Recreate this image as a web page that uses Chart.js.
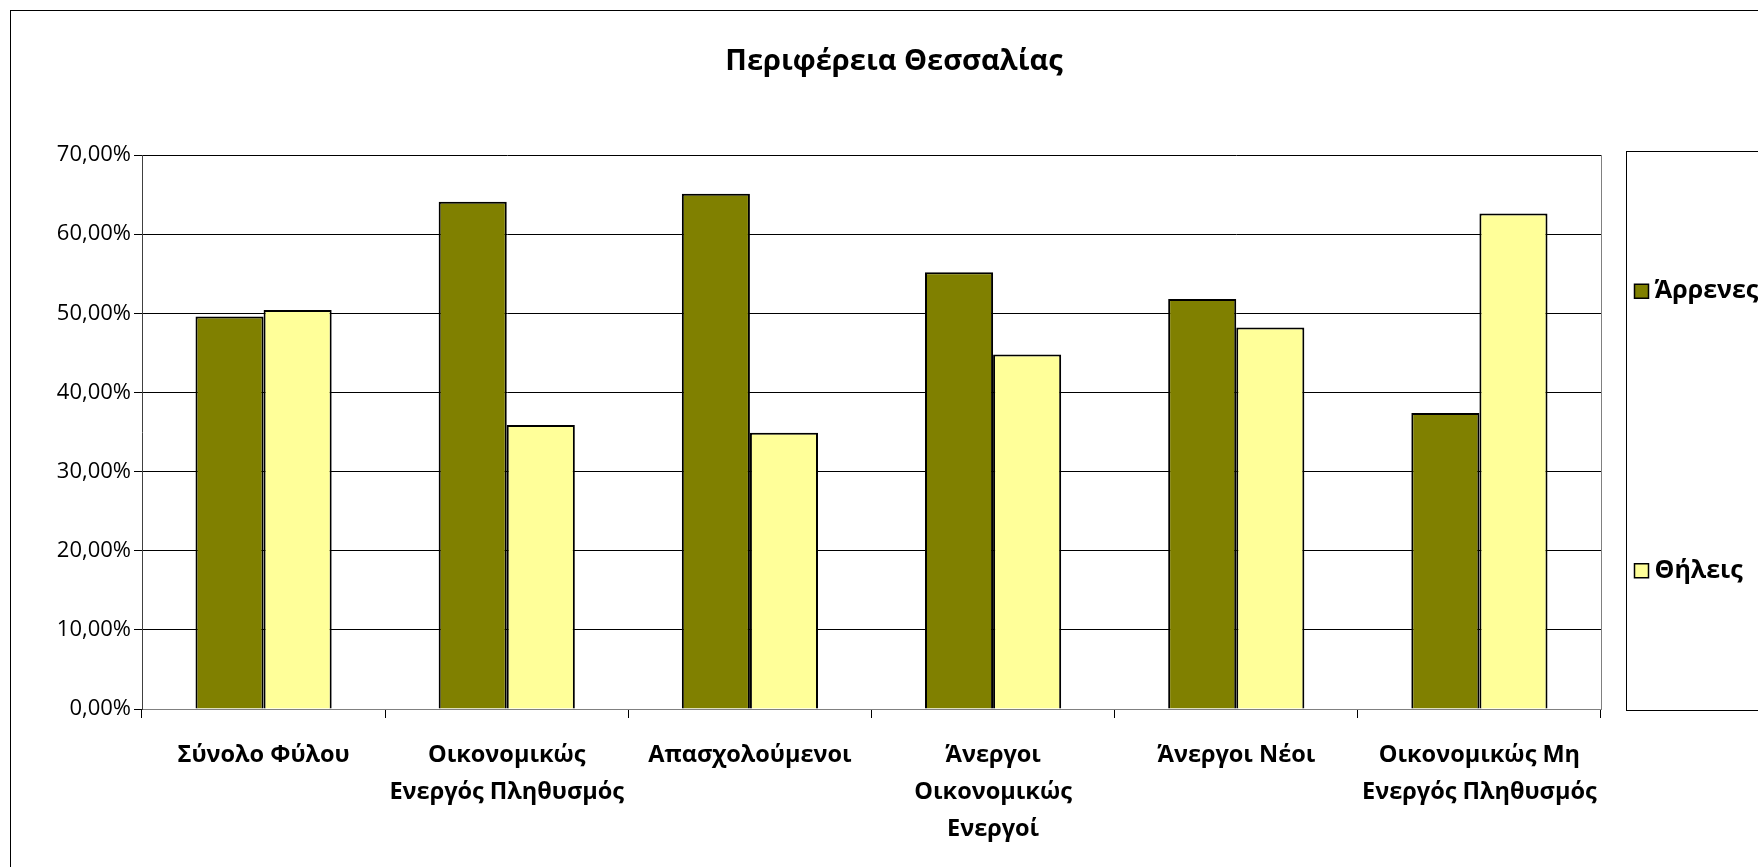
<!DOCTYPE html>
<html>
<head>
<meta charset="utf-8">
<script src="https://cdn.jsdelivr.net/npm/chart.js@4"></script>
<style>
  html, body { margin: 0; padding: 0; background: #fff; overflow: hidden; }
  #wrap { width: 1788px; height: 880px; }
</style>
</head>
<body>
<div id="wrap"><canvas id="chart" width="1788" height="880"></canvas></div>
<script>
const chartTitle = 'Περιφέρεια Θεσσαλίας';
const categories = [
  ['Σύνολο Φύλου'],
  ['Οικονομικώς', 'Ενεργός Πληθυσμός'],
  ['Απασχολούμενοι'],
  ['Άνεργοι', 'Οικονομικώς', 'Ενεργοί'],
  ['Άνεργοι Νέοι'],
  ['Οικονομικώς Μη', 'Ενεργός Πληθυσμός']
];
const seriesNames = ['Άρρενες', 'Θήλεις'];
const males = [49.6, 64.1, 65.1, 55.2, 51.8, 37.4];
const females = [50.4, 35.9, 34.9, 44.8, 48.2, 62.6];
const yMax = 70;
const yStep = 10;

const FONT = '"Open Sans", "Noto Sans", sans-serif';

// outer frame, title over the whole frame, plot right border and the boxed legend
const framePlugin = {
  id: 'frame',
  beforeDraw(chart) {
    const ctx = chart.ctx;
    ctx.save();
    ctx.fillStyle = '#fff';
    ctx.fillRect(0, 0, chart.width, chart.height);
    ctx.strokeStyle = '#000';
    ctx.lineWidth = 1;
    ctx.strokeRect(10.5, 10.5, chart.width - 21, chart.height - 21);
    ctx.restore();
  },
  afterDraw(chart) {
    const ctx = chart.ctx;
    const a = chart.chartArea;
    ctx.save();

    ctx.fillStyle = '#000';
    ctx.font = 'bold 29px ' + FONT;
    ctx.textAlign = 'center';
    ctx.textBaseline = 'middle';
    ctx.fillText(chartTitle, chart.width / 2, 62);

    ctx.strokeStyle = '#808080';
    ctx.lineWidth = 1;
    ctx.beginPath();
    ctx.moveTo(Math.round(a.right) + 0.5, a.top);
    ctx.lineTo(Math.round(a.right) + 0.5, a.bottom);
    ctx.stroke();

    // legend box
    const bx = Math.round(a.right) + 25.5;
    const by = Math.round(a.top) - 3.5;
    const bh = Math.round(a.bottom - a.top) + 5;
    const bw = chart.width - 14 - bx;
    ctx.strokeStyle = '#000';
    ctx.strokeRect(bx, by, bw, bh);

    const sets = chart.data.datasets;
    ctx.font = 'bold 25px ' + FONT;
    ctx.textBaseline = 'middle';
    ctx.textAlign = 'left';
    sets.forEach((ds, i) => {
      const cy = by + bh * (i + 0.5) / sets.length;
      ctx.fillStyle = ds.backgroundColor;
      ctx.fillRect(bx + 8, cy - 7, 14, 14);
      ctx.strokeStyle = '#000';
      ctx.lineWidth = 1.5;
      ctx.strokeRect(bx + 8, cy - 7, 14, 14);
      ctx.fillStyle = '#000';
      ctx.fillText(ds.label, bx + 28, cy);
    });
    ctx.restore();
  }
};

new Chart(document.getElementById('chart'), {
  type: 'bar',
  data: {
    labels: categories,
    datasets: [
      { label: seriesNames[0], data: males, backgroundColor: '#808000', borderColor: '#000', borderWidth: 2 },
      { label: seriesNames[1], data: females, backgroundColor: '#FFFF99', borderColor: '#000', borderWidth: 2 }
    ]
  },
  options: {
    responsive: false,
    animation: false,
    devicePixelRatio: 1,
    layout: { padding: { top: 155, left: 10, right: 187, bottom: 10 } },
    datasets: { bar: { categoryPercentage: 0.56, barPercentage: 1 } },
    plugins: {
      legend: { display: false },
      tooltip: { enabled: false },
      title: { display: false }
    },
    scales: {
      x: {
        grid: { display: true, drawOnChartArea: false, offset: true, tickLength: 9, color: '#000' },
        border: { display: true, color: '#808080' },
        ticks: {
          color: '#000',
          padding: 19,
          font: { family: FONT, size: 23.5, weight: 'bold', lineHeight: '37px' }
        },
        afterFit(scale) { scale.height = 161; }
      },
      y: {
        min: 0,
        max: yMax,
        grid: { color: '#000', tickLength: 8 },
        border: { display: true, color: '#404040' },
        ticks: {
          stepSize: yStep,
          color: '#000',
          padding: 3,
          font: { family: FONT, size: 22 },
          callback: v => v.toFixed(2).replace('.', ',') + '%'
        },
        afterFit(scale) { scale.width = 132; }
      }
    }
  },
  plugins: [framePlugin]
});
</script>
</body>
</html>
